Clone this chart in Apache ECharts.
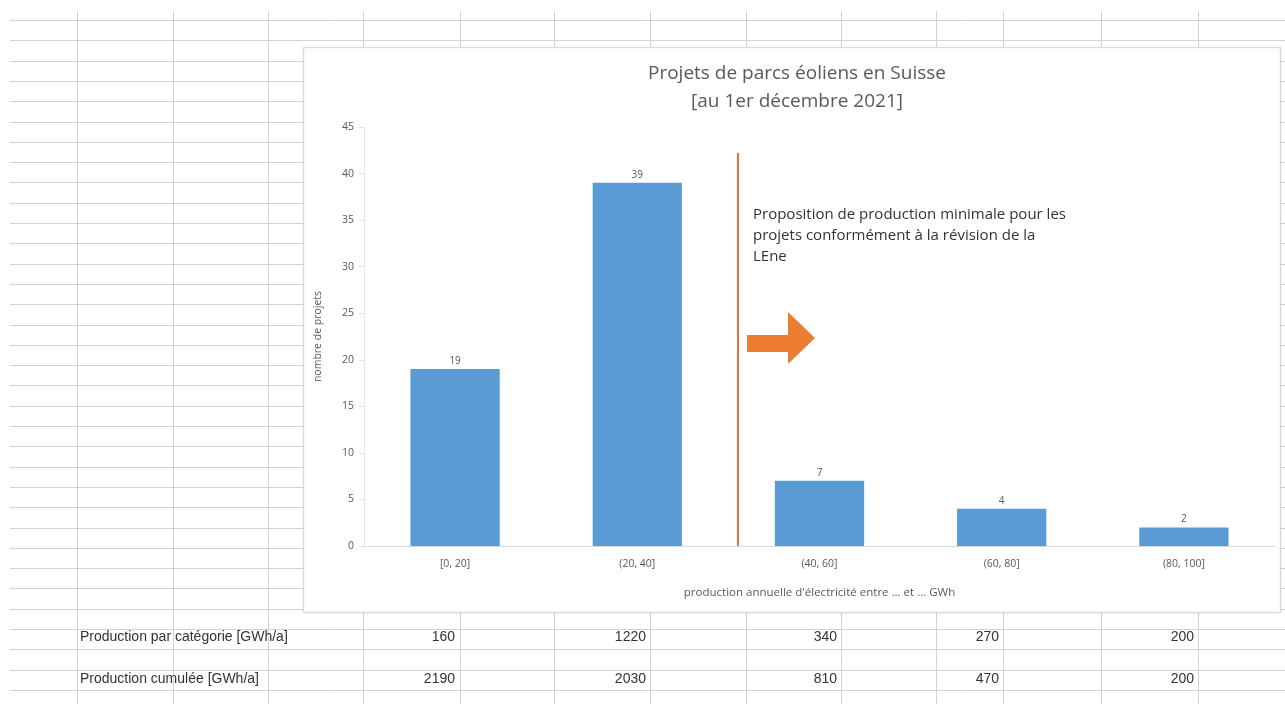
<!DOCTYPE html>
<html>
    <head>
        <meta charset="utf-8">
        <script src="https://cdn.jsdelivr.net/npm/echarts@6/dist/echarts.min.js"></script>
        <style>
            html, body { margin: 0; padding: 0; background: #fff; }
            #main { width: 1285px; height: 704px; }
        </style>
    </head>
    <body>
        <div id="main"></div>
        <script>
            // data
            var categories = ['[0, 20]', '(20, 40]', '(40, 60]', '(60, 80]', '(80, 100]'];
            var projets = [19, 39, 7, 4, 2];
            var prodCategorie = [160, 1220, 340, 270, 200];
            var prodCumulee = [2190, 2030, 810, 470, 200];
            var rowLabels = ['Production par catégorie [GWh/a]', 'Production cumulée [GWh/a]'];
            var seuil = 2.05; // position of the orange line, in category units
            var annotation = 'Proposition de production minimale pour les\nprojets conformément à la révision de la\nLEne';

            // spreadsheet layout
            var colLines = [77, 173, 268, 363, 460, 554, 650, 746, 841, 936, 1003, 1101, 1198];
            var cellRight = [455, 646, 837, 999, 1194];
            var rowY = [637, 679];

            var chart = echarts.init(document.getElementById('main'));

            var bg = [];
            for (var k = 0; k <= 33; k++) {
                var y = Math.round(20 + 20.3 * k) + 0.5;
                bg.push({
                    type: 'line', z: -20, silent: true,
                    shape: {x1: 10, y1: y, x2: 1285, y2: y},
                    style: {stroke: '#d2d2d2', lineWidth: 1}
                });
            }
            colLines.forEach(function (x) {
                bg.push({
                    type: 'line', z: -20, silent: true,
                    shape: {x1: x + 0.5, y1: 11, x2: x + 0.5, y2: 704},
                    style: {stroke: '#d2d2d2', lineWidth: 1}
                });
            });
            // chart box
            bg.push({
                type: 'rect', z: -10, silent: true,
                shape: {x: 303.5, y: 47.5, width: 977, height: 565},
                style: {fill: '#fff', stroke: '#d9d9d9', lineWidth: 1,
                    shadowBlur: 3, shadowColor: 'rgba(0,0,0,0.12)'}
            });
            // orange arrow
            bg.push({
                type: 'polygon', z: 10, silent: true,
                shape: {points: [[747, 335], [788, 335], [788, 312], [815, 338], [788, 364], [788, 352], [747, 352]]},
                style: {fill: '#ED7D31'}
            });
            bg.push({
                type: 'text', z: 10, silent: true,
                x: 753, y: 204,
                style: {text: annotation, font: '15px "Open Sans"', fill: '#333', lineHeight: 21}
            });
            // table rows
            rowLabels.forEach(function (t, i) {
                bg.push({
                    type: 'text', z: 10, silent: true,
                    x: 80, y: rowY[i],
                    style: {text: t, font: '14px "Liberation Sans"', fill: '#333', verticalAlign: 'middle'}
                });
            });
            [prodCategorie, prodCumulee].forEach(function (arr, i) {
                arr.forEach(function (v, j) {
                    bg.push({
                        type: 'text', z: 10, silent: true,
                        x: cellRight[j], y: rowY[i],
                        style: {text: String(v), font: '14px "Liberation Sans"', fill: '#333',
                            align: 'right', verticalAlign: 'middle'}
                    });
                });
            });

            chart.setOption({
                animation: false,
                textStyle: {fontFamily: 'Open Sans'},
                title: {
                    text: 'Projets de parcs éoliens en Suisse\n[au 1er décembre 2021]',
                    left: 792,
                    top: 55,
                    textAlign: 'center',
                    textStyle: {fontFamily: 'Open Sans', fontSize: 19, fontWeight: 'normal', color: '#595959', lineHeight: 28}
                },
                graphic: bg,
                grid: {left: 364, right: 10, top: 127, bottom: 158},
                xAxis: [{
                    type: 'category',
                    data: categories,
                    axisTick: {show: false},
                    axisLine: {lineStyle: {color: '#d9d9d9'}},
                    axisLabel: {color: '#595959', fontSize: 10.5, margin: 13},
                    name: "production annuelle d'électricité entre ... et ... GWh",
                    nameLocation: 'middle',
                    nameGap: 41,
                    nameTextStyle: {color: '#595959', fontSize: 11.5}
                }, {
                    type: 'value', min: 0, max: 5, show: false
                }],
                yAxis: {
                    type: 'value',
                    min: 0, max: 45, interval: 5,
                    axisLine: {show: true, lineStyle: {color: '#e6e6e6'}},
                    splitLine: {show: false},
                    axisLabel: {color: '#595959', fontSize: 10.5, margin: 10},
                    name: 'nombre de projets',
                    nameLocation: 'middle',
                    nameRotate: 90,
                    nameGap: 40,
                    nameTextStyle: {color: '#595959', fontSize: 10.5}
                },
                series: [{
                    type: 'bar',
                    data: projets,
                    barWidth: '49%',
                    itemStyle: {color: '#5B9BD5'},
                    label: {show: true, position: 'top', color: '#595959', fontSize: 10, distance: 3}
                }, {
                    type: 'line',
                    xAxisIndex: 1,
                    data: [],
                    markLine: {
                        silent: true,
                        symbol: 'none',
                        label: {show: false},
                        lineStyle: {color: '#D9773E', width: 2, type: 'solid'},
                        data: [[{coord: [seuil, 0]}, {coord: [seuil, 42.2]}]]
                    }
                }]
            });
        </script>
    </body>
</html>
